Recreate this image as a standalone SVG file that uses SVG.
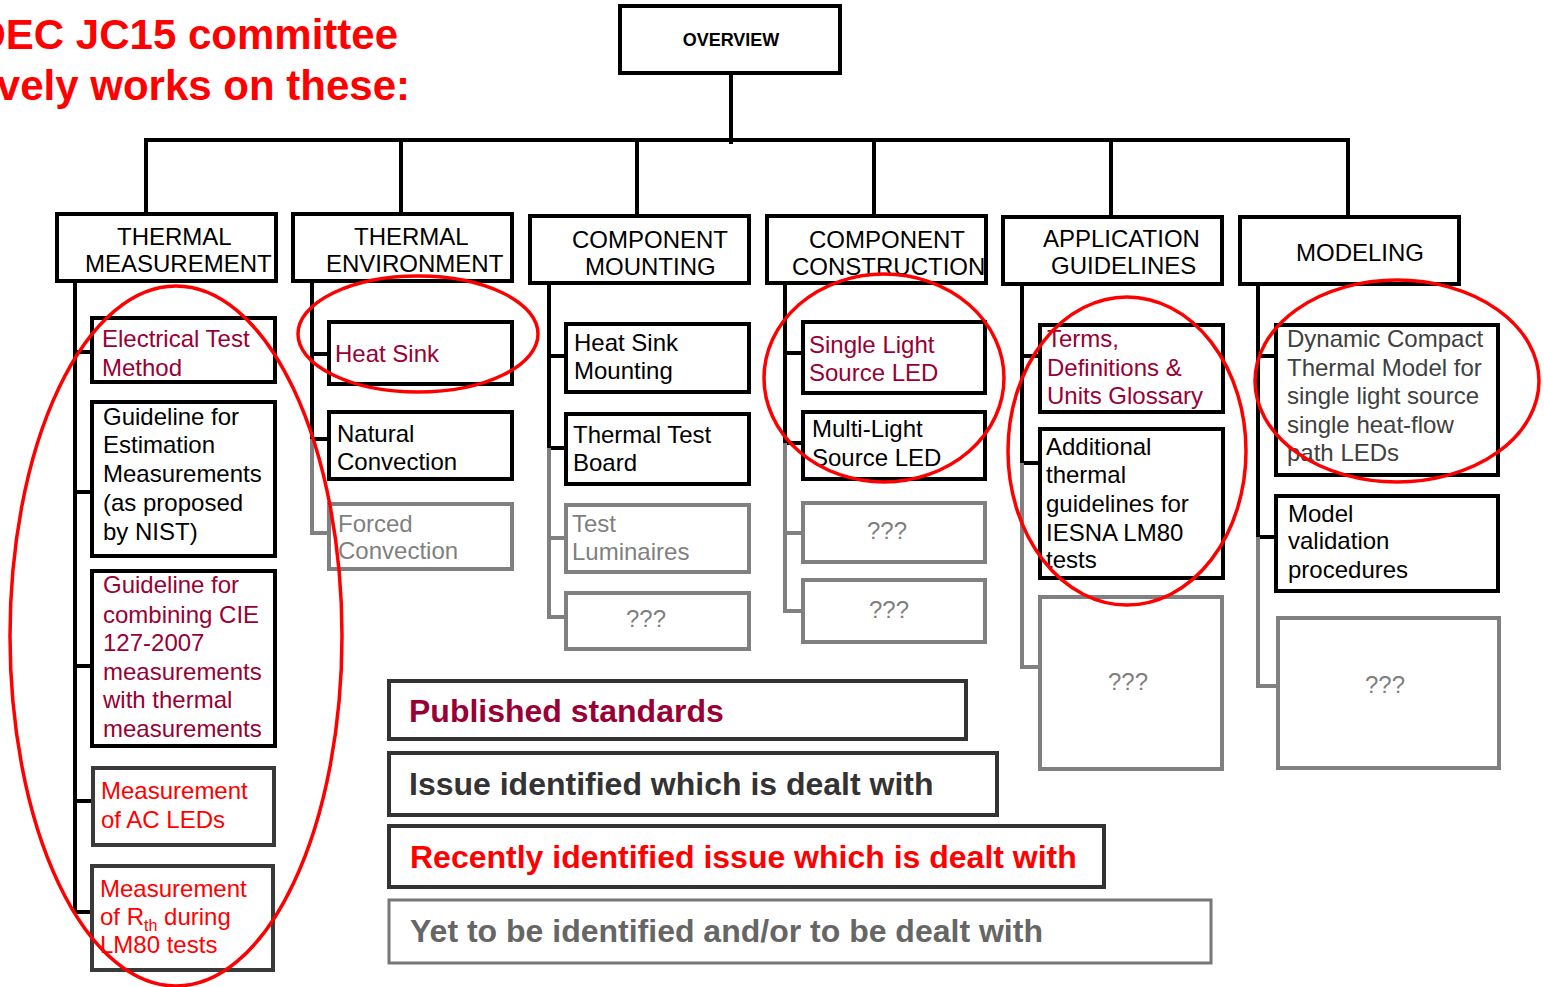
<svg xmlns="http://www.w3.org/2000/svg" width="1544" height="987" viewBox="0 0 1544 987">
<style>
text{font-family:"Liberation Sans",Arial,Helvetica,sans-serif;fill:#000}
.t{font-size:24px}
.cat{font-size:24px}
.b{fill:#fff;stroke:#000;stroke-width:4}
.g{fill:#fff;stroke:#808080;stroke-width:4}
.d{fill:#fff;stroke:#3a3a3a;stroke-width:4}
.pub{fill:#990033}
.red{fill:#ff0000}
.gt{fill:#7f7f7f}
.dg{fill:#404040}
.cb{stroke:#000;stroke-width:4;fill:none}
.cg{stroke:#808080;stroke-width:4;fill:none}
.ring{fill:none;stroke:#ff0000;stroke-width:3.5}
.lg{font-size:32px;font-weight:bold}
.q{font-size:24px;fill:#7f7f7f;text-anchor:middle}
</style>
<rect width="1544" height="987" fill="#fff"/>

<g id="title">
<text x="398" y="49" text-anchor="end" style="font-size:42px;font-weight:bold;fill:#ff0000">JEDEC JC15 committee</text>
<text x="410" y="100" text-anchor="end" style="font-size:42px;font-weight:bold;fill:#ff0000">actively works on these:</text>
</g>

<g id="connectors">
<path class="cb" d="M731,73 V144"/>
<path class="cb" d="M146,214 V140 H1350"/>
<path class="cb" d="M401,140 V214 M637,140 V216 M874,140 V216 M1111,140 V217 M1348,140 V217"/>
<path class="cb" d="M75,281 V912 M75,352 H92 M75,492 H92 M75,666 H92 M75,801 H93 M75,912 H92"/>
<path class="cb" d="M312,281 V439 M312,354 H329 M312,439 H329"/>
<path class="cg" d="M312,439 V533 H329"/>
<path class="cb" d="M549,283 V448 M549,356 H566 M549,448 H566"/>
<path class="cg" d="M549,448 V617 H566 M549,538 H566"/>
<path class="cb" d="M785,283 V443 M785,353 H803 M785,443 H803"/>
<path class="cg" d="M785,443 V611 H803 M785,533 H803"/>
<path class="cb" d="M1022,284 V463 M1022,356 H1040 M1022,463 H1040"/>
<path class="cg" d="M1022,463 V667 H1040"/>
<path class="cb" d="M1258,284 V537 M1258,356 H1276 M1258,537 H1276"/>
<path class="cg" d="M1258,537 V686 H1278"/>
</g>

<g id="overview">
<rect class="b" x="620" y="6" width="220" height="67"/>
<text x="731" y="46" text-anchor="middle" style="font-size:18px;font-weight:bold">OVERVIEW</text>
</g>

<g id="thermal-measurement">
<rect class="b" x="57" y="214" width="219" height="67"/>
<text class="cat"><tspan x="117" y="245">THERMAL</tspan><tspan x="85" y="272">MEASUREMENT</tspan></text>
</g>
<g id="thermal-environment">
<rect class="b" x="293" y="214" width="219" height="67"/>
<text class="cat"><tspan x="354" y="245">THERMAL</tspan><tspan x="326" y="272">ENVIRONMENT</tspan></text>
</g>
<g id="component-mounting">
<rect class="b" x="530" y="216" width="219" height="67"/>
<text class="cat"><tspan x="572" y="248">COMPONENT</tspan><tspan x="585" y="275">MOUNTING</tspan></text>
</g>
<g id="component-construction">
<rect class="b" x="767" y="216" width="219" height="67"/>
<text class="cat"><tspan x="809" y="248">COMPONENT</tspan><tspan x="792" y="275">CONSTRUCTION</tspan></text>
</g>
<g id="application-guidelines">
<rect class="b" x="1003" y="217" width="219" height="67"/>
<text class="cat"><tspan x="1043" y="247">APPLICATION</tspan><tspan x="1051" y="274">GUIDELINES</tspan></text>
</g>
<g id="modeling">
<rect class="b" x="1240" y="217" width="219" height="67"/>
<text class="cat" x="1296" y="261">MODELING</text>
</g>

<g id="electrical-test-method">
<rect class="b" x="92" y="318" width="183" height="64"/>
<text class="t pub"><tspan x="102" y="347">Electrical Test</tspan><tspan x="102" y="376">Method</tspan></text>
</g>
<g id="guideline-estimation">
<rect class="b" x="92" y="402" width="183" height="154"/>
<text class="t"><tspan x="103" y="425">Guideline for</tspan><tspan x="103" y="453">Estimation</tspan><tspan x="103" y="482">Measurements</tspan><tspan x="103" y="511">(as proposed</tspan><tspan x="103" y="540">by NIST)</tspan></text>
</g>
<g id="guideline-cie">
<rect class="b" x="92" y="571" width="183" height="175"/>
<text class="t pub"><tspan x="103" y="593">Guideline for</tspan><tspan x="103" y="623">combining CIE</tspan><tspan x="103" y="651">127-2007</tspan><tspan x="103" y="680">measurements</tspan><tspan x="103" y="708">with thermal</tspan><tspan x="103" y="737">measurements</tspan></text>
</g>
<g id="ac-leds">
<rect class="d" x="93" y="768" width="181" height="77"/>
<text class="t red"><tspan x="101" y="799">Measurement</tspan><tspan x="101" y="828">of AC LEDs</tspan></text>
</g>
<g id="rth-lm80">
<rect class="d" x="92" y="866" width="181" height="104"/>
<text class="t red"><tspan x="100" y="897">Measurement</tspan><tspan x="100" y="925">of R</tspan><tspan dy="6" style="font-size:16px">th</tspan><tspan dy="-6"> during</tspan><tspan x="100" y="953">LM80 tests</tspan></text>
</g>

<g id="heat-sink">
<rect class="b" x="329" y="322" width="183" height="62"/>
<text class="t pub" x="335" y="362">Heat Sink</text>
</g>
<g id="natural-convection">
<rect class="b" x="329" y="412" width="183" height="67"/>
<text class="t"><tspan x="337" y="442">Natural</tspan><tspan x="337" y="470">Convection</tspan></text>
</g>
<g id="forced-convection">
<rect class="g" x="329" y="504" width="183" height="65"/>
<text class="t gt"><tspan x="338" y="532">Forced</tspan><tspan x="338" y="559">Convection</tspan></text>
</g>

<g id="heat-sink-mounting">
<rect class="b" x="566" y="324" width="183" height="68"/>
<text class="t"><tspan x="574" y="351">Heat Sink</tspan><tspan x="574" y="379">Mounting</tspan></text>
</g>
<g id="thermal-test-board">
<rect class="b" x="566" y="414" width="183" height="70"/>
<text class="t"><tspan x="573" y="443">Thermal Test</tspan><tspan x="573" y="471">Board</tspan></text>
</g>
<g id="test-luminaires">
<rect class="g" x="566" y="505" width="183" height="67"/>
<text class="t gt"><tspan x="572" y="532">Test</tspan><tspan x="572" y="560">Luminaires</tspan></text>
</g>
<g id="mounting-unknown">
<rect class="g" x="566" y="593" width="183" height="56"/>
<text class="q" x="646" y="627">???</text>
</g>

<g id="single-light-source">
<rect class="b" x="803" y="322" width="182" height="71"/>
<text class="t pub"><tspan x="809" y="353">Single Light</tspan><tspan x="809" y="381">Source LED</tspan></text>
</g>
<g id="multi-light-source">
<rect class="b" x="803" y="412" width="182" height="67"/>
<text class="t"><tspan x="812" y="437">Multi-Light</tspan><tspan x="812" y="466">Source LED</tspan></text>
</g>
<g id="construction-unknown-1">
<rect class="g" x="803" y="503" width="182" height="59"/>
<text class="q" x="887" y="539">???</text>
</g>
<g id="construction-unknown-2">
<rect class="g" x="803" y="580" width="182" height="62"/>
<text class="q" x="889" y="618">???</text>
</g>

<g id="terms-glossary">
<rect class="b" x="1040" y="325" width="183" height="87"/>
<text class="t pub"><tspan x="1047" y="347">Terms,</tspan><tspan x="1047" y="376">Definitions &amp;</tspan><tspan x="1047" y="404">Units Glossary</tspan></text>
</g>
<g id="additional-guidelines">
<rect class="b" x="1040" y="429" width="183" height="149"/>
<text class="t"><tspan x="1046" y="455">Additional</tspan><tspan x="1046" y="483">thermal</tspan><tspan x="1046" y="512">guidelines for</tspan><tspan x="1046" y="541">IESNA LM80</tspan><tspan x="1046" y="568">tests</tspan></text>
</g>
<g id="application-unknown">
<rect class="g" x="1040" y="597" width="182" height="172"/>
<text class="q" x="1128" y="690">???</text>
</g>

<g id="dynamic-compact-model">
<rect class="b" x="1276" y="325" width="222" height="150"/>
<text class="t dg"><tspan x="1287" y="347">Dynamic Compact</tspan><tspan x="1287" y="376">Thermal Model for</tspan><tspan x="1287" y="404">single light source</tspan><tspan x="1287" y="433">single heat-flow</tspan><tspan x="1287" y="461">path LEDs</tspan></text>
</g>
<g id="model-validation">
<rect class="b" x="1276" y="496" width="222" height="95"/>
<text class="t"><tspan x="1288" y="522">Model</tspan><tspan x="1288" y="549">validation</tspan><tspan x="1288" y="578">procedures</tspan></text>
</g>
<g id="modeling-unknown">
<rect class="g" x="1278" y="618" width="221" height="150"/>
<text class="q" x="1385" y="693">???</text>
</g>

<g id="legend-published">
<rect x="389" y="681" width="577" height="58" fill="#fff" stroke="#333" stroke-width="4"/>
<text class="lg" x="409" y="722" style="fill:#990033">Published standards</text>
</g>
<g id="legend-issue">
<rect x="389" y="753" width="608" height="62" fill="#fff" stroke="#333" stroke-width="4"/>
<text class="lg" x="409" y="795" style="fill:#333">Issue identified which is dealt with</text>
</g>
<g id="legend-recent">
<rect x="389" y="826" width="715" height="61" fill="#fff" stroke="#333" stroke-width="4"/>
<text class="lg" x="410" y="868" style="fill:#ff0000">Recently identified issue which is dealt with</text>
</g>
<g id="legend-yet">
<rect x="389" y="900" width="822" height="63" fill="#fff" stroke="#777" stroke-width="3"/>
<text class="lg" x="410" y="942" style="fill:#666">Yet to be identified and/or to be dealt with</text>
</g>

<g id="highlights">
<ellipse class="ring" cx="176" cy="636" rx="166" ry="350"/>
<ellipse class="ring" cx="418" cy="334" rx="120" ry="58"/>
<ellipse class="ring" cx="884" cy="378" rx="120" ry="104"/>
<ellipse class="ring" cx="1127" cy="451" rx="119" ry="154"/>
<ellipse class="ring" cx="1397" cy="381" rx="142" ry="101"/>
</g>
</svg>
